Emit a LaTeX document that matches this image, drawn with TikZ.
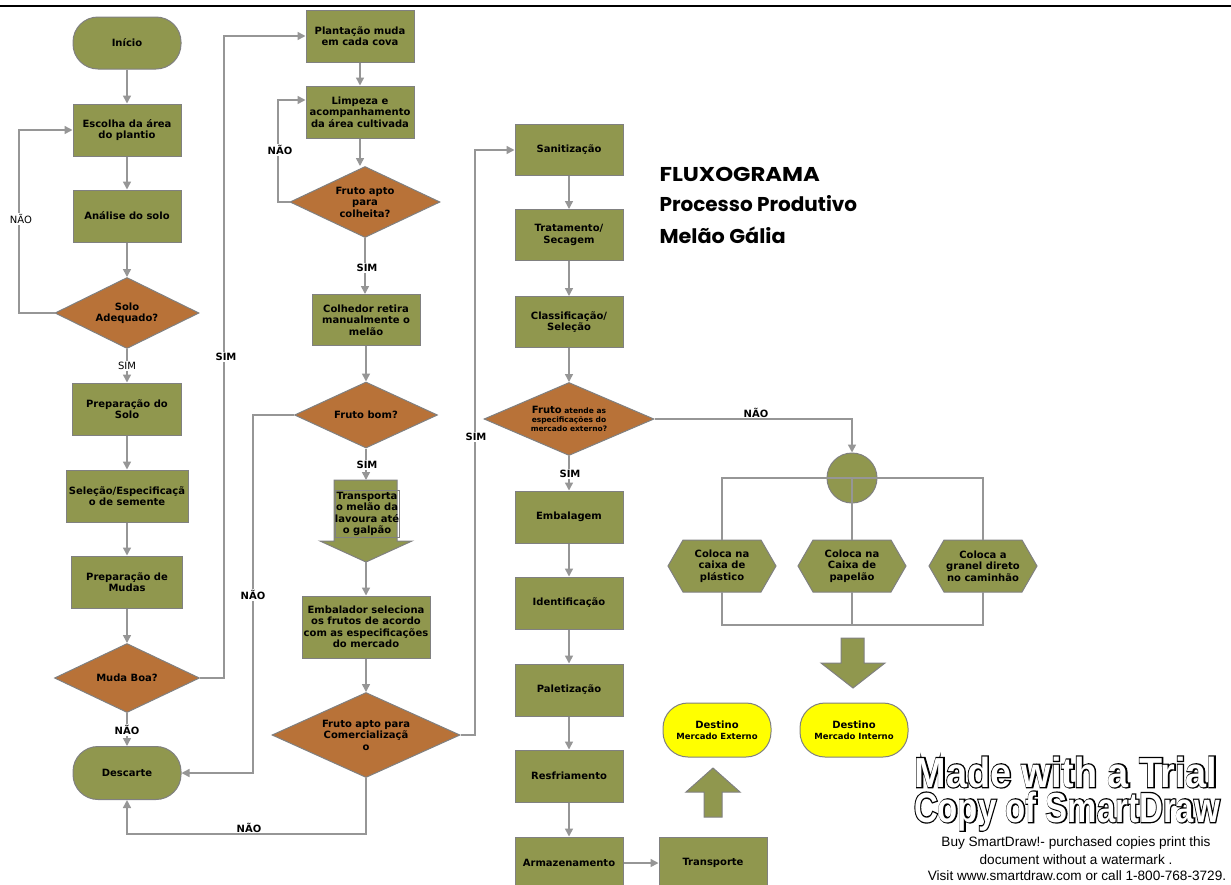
\documentclass[tikz,border=0pt]{standalone}
\usepackage{fontspec}
\setmainfont{DejaVu Sans}
\newfontfamily\titlefont{Poppins}
\newfontfamily\wmfont{Liberation Sans}
\newfontfamily\wmouter[BoldFeatures={FakeBold=6}]{Liberation Sans}
\usetikzlibrary{shapes.geometric,arrows.meta,calc}
\definecolor{olive}{RGB}{144,151,78}
\definecolor{rust}{RGB}{184,114,56}
\definecolor{edgec}{RGB}{128,128,128}
\definecolor{connc}{RGB}{150,150,150}
\definecolor{yel}{RGB}{255,255,0}
\tikzset{
  box/.style={draw=edgec, line width=1pt, fill=olive, minimum width=108pt, minimum height=52pt,
    inner sep=0pt, align=center, font=\bfseries\fontsize{10}{11.5}\selectfont},
  term/.style={box, rounded corners=25pt},
  dec/.style={diamond, shape aspect=2, draw=edgec, line width=1pt, fill=rust, inner sep=0pt,
    align=center, font=\bfseries\fontsize{10}{11.5}\selectfont},
  conn/.style={draw=connc, line width=1.5pt, -{Triangle[length=8pt,width=8pt]}},
  plain/.style={draw=connc, line width=1.5pt},
  lab/.style={font=\bfseries\fontsize{10}{12}\selectfont, fill=white, inner sep=1pt},
  labr/.style={lab, font=\fontsize{10}{12}\selectfont},
  shapefill/.style={draw=edgec, line width=1pt, fill=olive},
  hext/.style={minimum width=108pt, minimum height=52pt, inner sep=0pt, align=center,
    font=\bfseries\fontsize{10}{11.5}\selectfont},
  wm/.style={font=\wmfont\bfseries\fontsize{42}{42}\selectfont, anchor=base, white, inner sep=0pt},
  wmo/.style={font=\wmouter\bfseries\fontsize{42}{42}\selectfont, anchor=base, black, inner sep=0pt},
  small/.style={font=\wmfont\fontsize{13.6}{15}\selectfont},
  ttl/.style={font=\titlefont\bfseries\fontsize{20}{24}\selectfont, anchor=west}
}
\begin{document}
\begin{tikzpicture}[x=1pt,y=-1pt]
\useasboundingbox[fill=white] (0,0) rectangle (1231,884);
\draw[line width=2.5pt] (0,6) -- (1231,6);

% left column
\node[term] (ini) at (127,43) {Início};
\node[box] (esc) at (127,130) {Escolha da área\\do plantio};
\node[box] (ana) at (127,216) {Análise do solo};
\node[dec, minimum width=144pt, minimum height=71pt] (solo) at (127,313) {Solo\\Adequado?};
\node[box, minimum width=109pt] (prep) at (127,409) {Preparação do\\Solo};
\node[box, minimum width=122pt] (sel) at (127,496) {Seleção/Especificaçã\\o de semente};
\node[box, minimum width=111pt] (mud) at (127,582) {Preparação de\\Mudas};
\node[dec, minimum width=145pt, minimum height=69pt] (muda) at (127,678) {Muda Boa?};
\node[term, minimum height=53pt] (desc) at (127,773) {Descarte};

% middle column
\node[box] (plan) at (360,36) {Plantação muda\\em cada cova};
\node[box] (limp) at (360,112) {Limpeza e\\acompanhamento\\da área cultivada};
\node[dec, minimum width=150pt, minimum height=71pt] (fac) at (365,202) {Fruto apto\\para\\colheita?};
\node[box, minimum height=51pt] (col) at (366,320) {Colhedor retira\\manualmente o\\melão};
\node[dec, minimum width=143pt, minimum height=66pt] (fbom) at (366,415) {Fruto bom?};
\filldraw[shapefill] (334,480) -- (397,480) -- (397,541) -- (412,541) -- (366,562) -- (320,541) -- (334,541) -- cycle;
\node[draw=edgec, line width=0.8pt, minimum width=64pt, minimum height=47pt, inner sep=0pt, align=center,
  font=\bfseries\fontsize{10}{11.5}\selectfont] (trans) at (367,514) {Transporta\\o melão da\\lavoura até\\o galpão};
\coordinate (trtop) at (366,480);
\coordinate (trtip) at (366,562);
\node[box, minimum width=128pt, minimum height=62pt] (emb) at (366,627) {Embalador seleciona\\os frutos de acordo\\com as especificações\\do mercado};
\node[dec, minimum width=188pt, minimum height=85pt] (fcom) at (366,735) {Fruto apto para\\Comercializaçã\\o};

% right column
\node[box, minimum height=51pt] (san) at (569,150) {Sanitização};
\node[box, minimum height=51pt] (trat) at (569,235) {Tratamento/\\Secagem};
\node[box, minimum height=51pt] (cla) at (569,322) {Classificação/\\Seleção};
\node[dec, shape aspect=2.3, minimum width=170pt, minimum height=73pt, font=\bfseries\fontsize{7.5}{9}\selectfont] (fat) at (569,419)
  {{\fontsize{10}{10}\selectfont Fruto} atende as\\especificações do\\mercado externo?};
\node[box] (emb2) at (569,517) {Embalagem};
\node[box] (ide) at (569,603) {Identificação};
\node[box] (pal) at (569,690) {Paletização};
\node[box] (res) at (569,776) {Resfriamento};
\node[box] (arm) at (569,863) {Armazenamento};
\node[box] (tra) at (713,863) {Transporte};

% destinations
\node[term, fill=yel, minimum height=54pt] (dext) at (717,730) {Destino\\\fontsize{8.5}{10}\selectfont Mercado Externo};
\node[term, fill=yel, minimum height=54pt] (dint) at (854,730) {Destino\\\fontsize{8.5}{10}\selectfont Mercado Interno};
\filldraw[shapefill] (713,768) -- (740,792) -- (722,792) -- (722,817) -- (704,817) -- (704,792) -- (686,792) -- cycle;
\filldraw[shapefill] (841,638) -- (864,638) -- (864,663) -- (885,663) -- (853,688) -- (821,663) -- (841,663) -- cycle;

% branch
\node[circle, draw=edgec, line width=1pt, fill=olive, minimum size=50pt, inner sep=0pt] (cir) at (852,478) {};
\foreach \x in {722,852,983}
  \filldraw[shapefill] (\x-54,566) -- ++(15,-26) -- ++(78,0) -- ++(15,26) -- ++(-15,26) -- ++(-78,0) -- cycle;
\node[hext] (h1) at (722,566) {Coloca na\\caixa de\\plástico};
\node[hext] (h2) at (852,566) {Coloca na\\Caixa de\\papelão};
\node[hext] (h3) at (983,566) {Coloca a\\granel direto\\no caminhão};
\draw[plain] (h1.north) |- (h3.north |- cir.center) -- (h3.north);
\draw[plain] (cir.center) -- (h2.north);
\draw[plain] (h1.south) |- ($(h3.south)+(0,33)$) -- (h3.south);
\draw[plain] (h2.south) -- ++(0,33);

% title
\node[ttl] (t1) at (656,174) {\scalebox{1.14}[1]{FLUXOGRAMA}};
\node[ttl] (t2) at (656,204) {Processo Produtivo};
\node[ttl] (t3) at (656,235) {\scalebox{1.04}[1]{Melão Gália}};

% connectors left
\draw[conn] (ini) -- (esc);
\draw[conn] (esc) -- (ana);
\draw[conn] (ana) -- (solo);
\draw[conn] (solo.west) -- (19,313) |- (esc.west);
\node[labr] at (21,219) {NÃO};
\draw[conn] (solo) -- (prep);
\node[labr] at (127,366) {SIM};
\draw[conn] (prep) -- (sel);
\draw[conn] (sel) -- (mud);
\draw[conn] (mud) -- (muda);
\draw[conn] (muda) -- (desc);
\node[lab] at (127,730) {NÃO};
\draw[conn] (muda.east) -- (224,678) |- (plan.west);
\node[lab] at (226,357) {SIM};

% connectors middle
\draw[conn] (plan) -- (limp);
\draw[conn] (limp.south) -- (limp.south |- fac.north);
\draw[conn] (fac.west) -- (278,202) |- ($(limp.west)+(0,-12)$);
\node[lab] at (280,150) {NÃO};
\draw[conn] (fac.south) -- (fac.south |- col.north);
\node[lab] at (367,268) {SIM};
\draw[conn] (col) -- (fbom);
\draw[conn] (fbom.west) -- (253,415) |- (desc.east);
\node[lab] at (253,595) {NÃO};
\draw[conn] (fbom.south) -- (trtop);
\node[lab] at (367,465) {SIM};
\draw[conn] (trtip) -- (emb.north);
\draw[conn] (emb) -- (fcom);
\draw[conn] (fcom.south) -- (366,834) -| (desc.south);
\node[lab, fill=none, anchor=south] at (249,834) {NÃO};
\draw[conn] (fcom.east) -- (475,735) |- (san.west);
\node[lab] at (476,437) {SIM};

% connectors right
\draw[conn] (san) -- (trat);
\draw[conn] (trat) -- (cla);
\draw[conn] (cla) -- (fat);
\draw[conn] (fat) -- (emb2);
\node[lab] at (570,474) {SIM};
\draw[conn] (fat.east) -| (cir.north);
\node[lab, fill=none, anchor=south] at (756,419) {NÃO};
\draw[conn] (emb2) -- (ide);
\draw[conn] (ide) -- (pal);
\draw[conn] (pal) -- (res);
\draw[conn] (res) -- (arm);
\draw[conn] (arm) -- (tra);

% watermark (outlined lettering: thick black under, white on top)
\node[wmo] (wm1o) at (1066,787) {\scalebox{0.9}[1]{Made with a Trial}};
\node[wm] (wm1) at (1066,787) {\scalebox{0.9}[1]{Made with a Trial}};
\node[wmo] (wm2o) at (1067,822) {\scalebox{0.785}[1]{Copy of SmartDraw}};
\node[wm] (wm2) at (1067,822) {\scalebox{0.785}[1]{Copy of SmartDraw}};
\node[small] (s1) at (1076,843) {Buy SmartDraw!- purchased copies print this};
\node[small] (s2) at (1076,860) {document without a watermark .};
\node[small] (s3) at (1077,876) {Visit www.smartdraw.com or call 1-800-768-3729.};
\end{tikzpicture}
\end{document}
